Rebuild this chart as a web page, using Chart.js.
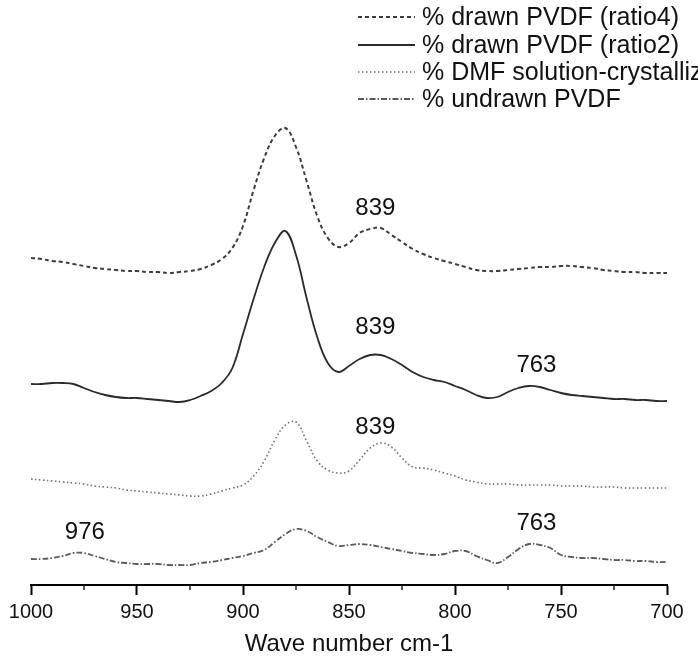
<!DOCTYPE html>
<html lang="en">
<head>
    <meta charset="UTF-8">
    <title>PVDF spectra 1000-700 cm-1</title>
    <style>
        html, body { margin: 0; padding: 0; background: #fff; }
        .chart-container { width: 698px; height: 660px; position: relative; }
    </style>
</head>
<body>
    <div class="chart-container">
        <canvas id="spectraChart"></canvas>
    </div>

    <script src="https://cdn.jsdelivr.net/npm/chart.js"></script>
    <script>
        // Wave numbers (cm-1), every 5 from 1000 down to 700
        const wavenumbers = [
            1000, 995, 990, 985, 980, 975, 970, 965, 960, 955,
            950, 945, 940, 935, 930, 925, 920, 915, 910, 905,
            900, 895, 890, 885, 880, 875, 870, 865, 860, 855,
            850, 845, 840, 835, 830, 825, 820, 815, 810, 805,
            800, 795, 790, 785, 780, 775, 770, 765, 760, 755,
            750, 745, 740, 735, 730, 725, 720, 715, 710, 705, 700
        ];

        // Intensities (arbitrary units, curves offset vertically)
        const drawnRatio4 = [
            3.27, 3.26, 3.24, 3.23, 3.21, 3.19, 3.17, 3.16, 3.15, 3.14,
            3.14, 3.13, 3.13, 3.12, 3.13, 3.14, 3.16, 3.20, 3.26, 3.37,
            3.59, 3.95, 4.27, 4.49, 4.57, 4.38, 4.04, 3.69, 3.47, 3.38,
            3.42, 3.52, 3.56, 3.57, 3.50, 3.43, 3.36, 3.31, 3.27, 3.24,
            3.21, 3.18, 3.15, 3.14, 3.14, 3.15, 3.16, 3.17, 3.18, 3.18,
            3.19, 3.19, 3.18, 3.17, 3.15, 3.14, 3.13, 3.13, 3.12, 3.12, 3.12
        ];
        const drawnRatio2 = [
            2.01, 2.01, 2.02, 2.02, 2.01, 1.97, 1.93, 1.90, 1.88, 1.87,
            1.87, 1.86, 1.85, 1.84, 1.83, 1.85, 1.89, 1.94, 2.02, 2.17,
            2.51, 2.86, 3.18, 3.42, 3.54, 3.30, 2.87, 2.48, 2.22, 2.13,
            2.19, 2.26, 2.30, 2.30, 2.26, 2.20, 2.13, 2.08, 2.05, 2.03,
            1.99, 1.95, 1.90, 1.87, 1.88, 1.93, 1.97, 1.99, 1.98, 1.95,
            1.92, 1.90, 1.89, 1.88, 1.87, 1.86, 1.86, 1.85, 1.85, 1.84, 1.84
        ];
        const dmfSolution = [
            1.06, 1.05, 1.04, 1.03, 1.02, 1.01, 0.99, 0.98, 0.97, 0.95,
            0.94, 0.93, 0.92, 0.91, 0.90, 0.89, 0.89, 0.91, 0.94, 0.97,
            1.00, 1.09, 1.24, 1.45, 1.60, 1.63, 1.44, 1.24, 1.15, 1.12,
            1.14, 1.25, 1.37, 1.42, 1.38, 1.27, 1.18, 1.17, 1.15, 1.12,
            1.09, 1.05, 1.03, 1.01, 1.01, 1.01, 1.00, 1.00, 1.00, 1.00,
            0.99, 0.99, 0.99, 0.98, 0.98, 0.98, 0.97, 0.97, 0.97, 0.97, 0.97
        ];
        const undrawn = [
            0.26, 0.26, 0.27, 0.29, 0.32, 0.32, 0.29, 0.26, 0.23, 0.22,
            0.21, 0.21, 0.21, 0.20, 0.20, 0.20, 0.22, 0.23, 0.25, 0.27,
            0.29, 0.32, 0.35, 0.43, 0.51, 0.56, 0.54, 0.48, 0.43, 0.39,
            0.40, 0.41, 0.40, 0.38, 0.36, 0.34, 0.32, 0.31, 0.30, 0.31,
            0.34, 0.34, 0.29, 0.25, 0.22, 0.28, 0.36, 0.41, 0.40, 0.37,
            0.30, 0.28, 0.27, 0.27, 0.26, 0.25, 0.25, 0.24, 0.24, 0.23, 0.23
        ];

        const seriesNames = [
            '% drawn PVDF (ratio4)',
            '% drawn PVDF (ratio2)',
            '% DMF solution-crystallized PVDF',
            '% undrawn PVDF'
        ];

        // x axis ticks
        const majorTicks = [1000, 950, 900, 850, 800, 750, 700];
        const minorTicks = [975, 925, 875, 825, 775, 725];

        // peak labels: text, which curve, wave number it sits over
        const peakLabels = [
            { text: '839', series: 0, at: 840 },
            { text: '839', series: 1, at: 840 },
            { text: '763', series: 1, at: 765 },
            { text: '839', series: 2, at: 840 },
            { text: '976', series: 3, at: 975 },
            { text: '763', series: 3, at: 765 }
        ];

        const FONT = '"Liberation Sans", Arial, sans-serif';

        const toPoints = vals => wavenumbers.map((w, i) => ({ x: w, y: vals[i] }));

        const styles = [
            { color: '#3c3c3c', width: 2, dash: [4, 3] },
            { color: '#2a2a2a', width: 1.8, dash: [] },
            { color: '#707070', width: 1.6, dash: [1.5, 2.5] },
            { color: '#5a5a5a', width: 1.8, dash: [6, 2, 1.5, 2] }
        ];
        const allSeries = [drawnRatio4, drawnRatio2, dmfSolution, undrawn];

        // legend + peak labels + minor ticks
        const overlay = {
            id: 'overlay',
            afterDraw(chart) {
                const ctx = chart.ctx;
                const x = chart.scales.x;
                const area = chart.chartArea;
                ctx.save();

                // minor ticks
                ctx.strokeStyle = '#222';
                ctx.lineWidth = 1.5;
                minorTicks.forEach(v => {
                    const px = x.getPixelForValue(v);
                    ctx.beginPath();
                    ctx.moveTo(px, area.bottom);
                    ctx.lineTo(px, area.bottom + 5);
                    ctx.stroke();
                });

                // peak labels
                ctx.font = '24px ' + FONT;
                ctx.fillStyle = '#111';
                ctx.textAlign = 'center';
                ctx.textBaseline = 'middle';
                peakLabels.forEach(p => {
                    const idx = wavenumbers.indexOf(p.at);
                    const pt = chart.getDatasetMeta(p.series).data[idx];
                    const dy = (p.series === 1 && p.at === 840) ? 28 : 21;
                    ctx.fillText(p.text, x.getPixelForValue(Number(p.text)) + 3, pt.y - dy);
                });

                // legend
                ctx.font = '25px ' + FONT;
                ctx.textAlign = 'left';
                const rows = [17, 45, 72, 99];
                seriesNames.forEach((name, i) => {
                    const st = styles[i];
                    ctx.strokeStyle = st.color;
                    ctx.lineWidth = st.width;
                    ctx.setLineDash(st.dash);
                    ctx.beginPath();
                    ctx.moveTo(358, rows[i]);
                    ctx.lineTo(415, rows[i]);
                    ctx.stroke();
                    ctx.setLineDash([]);
                    ctx.fillStyle = '#111';
                    ctx.fillText(name, 422, rows[i] + 1);
                });
                ctx.restore();
            }
        };

        const ctx = document.getElementById('spectraChart').getContext('2d');
        const spectraChart = new Chart(ctx, {
            type: 'line',
            data: {
                datasets: allSeries.map((vals, i) => ({
                    label: seriesNames[i],
                    data: toPoints(vals),
                    borderColor: styles[i].color,
                    borderWidth: styles[i].width,
                    borderDash: styles[i].dash,
                    pointRadius: 0,
                    fill: false,
                    tension: 0.4
                }))
            },
            options: {
                responsive: true,
                maintainAspectRatio: false,
                animation: false,
                layout: { padding: { left: 31, right: 31, top: 0, bottom: 0 } },
                plugins: {
                    legend: { display: false },
                    tooltip: { enabled: false }
                },
                scales: {
                    x: {
                        type: 'linear',
                        min: 700,
                        max: 1000,
                        reverse: true,
                        afterFit: s => { s.height = 75; },
                        afterBuildTicks: s => { s.ticks = majorTicks.map(v => ({ value: v })); },
                        border: { display: true, color: '#000', width: 2 },
                        grid: {
                            drawOnChartArea: false,
                            drawTicks: true,
                            tickLength: 10,
                            tickWidth: 2,
                            tickColor: '#000'
                        },
                        ticks: {
                            autoSkip: false,
                            maxRotation: 0,
                            padding: 5,
                            color: '#111',
                            font: { family: FONT, size: 20 },
                            callback: v => String(v)
                        },
                        title: {
                            display: true,
                            text: 'Wave number cm-1',
                            color: '#111',
                            font: { family: FONT, size: 24 },
                            padding: { top: 4, bottom: 1 }
                        }
                    },
                    y: {
                        display: false,
                        min: 0,
                        max: 5.85
                    }
                }
            },
            plugins: [overlay]
        });
    </script>
</body>
</html>
